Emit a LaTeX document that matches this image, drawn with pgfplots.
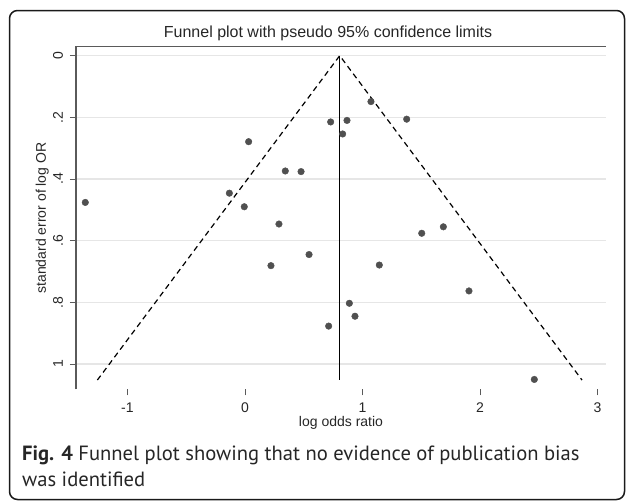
\documentclass[border=0pt]{standalone}
\usepackage{fontspec}
\setmainfont{Liberation Sans}
\newfontfamily\capfont{PT Sans}
\usepackage{pgfplots}
\pgfplotsset{compat=1.18}
\definecolor{dotgray}{HTML}{505050}
\definecolor{axgray}{HTML}{5A5A5A}
\definecolor{gridgray}{HTML}{E6E6E6}
\definecolor{framecol}{HTML}{1A1A1A}

\pgfplotstableread{
x se
-1.359 0.476
0.031 0.279
0.343 0.374
0.477 0.376
-0.133 0.446
-0.006 0.490
0.289 0.546
0.545 0.645
0.221 0.681
1.072 0.149
0.729 0.215
0.868 0.210
0.831 0.254
1.376 0.206
1.504 0.576
1.688 0.555
1.143 0.679
1.906 0.763
0.888 0.803
0.936 0.845
0.712 0.877
2.462 1.050
}\studies

\begin{document}
\begin{tikzpicture}
\path (0,0) rectangle (627pt,-501pt);
% outer frame
\node[draw=framecol, line width=1.5pt, rounded corners=8pt, inner sep=0pt, outer sep=0pt,
      minimum width=615pt, minimum height=489pt, anchor=north west] at (9.5pt,-10.5pt) {};

\begin{axis}[
    at={(76pt,-389.3pt)}, anchor=south west,
    scale only axis, width=530pt, height=342.6pt,
    xmin=-1.438, xmax=3.072,
    ymin=-0.029, ymax=1.082, y dir=reverse,
    axis line style={draw=none},
    xtick pos=bottom, ytick pos=left,
    tick align=outside, major tick length=6pt,
    major tick style={draw=axgray, line width=0.9pt},
    xtick={-1,0,1,2,3},
    ytick={0,0.2,0.4,0.6,0.8,1},
    yticklabels={0,.2,.4,.6,.8,1},
    ymajorgrids, grid style={draw=gridgray, line width=1.1pt},
    /pgf/number format/assume math mode=true,
    tick label style={font=\fontsize{14}{16}\selectfont, text=black!85},
    xticklabel style={anchor=base, yshift=-17pt},
    yticklabel style={xshift=-7pt, rotate=90, anchor=base, inner sep=0pt},
    xlabel={log odds ratio},
    ylabel={standard error of log OR},
    every axis x label/.style={at={(axis description cs:0.5,0)}, anchor=base, yshift=-37.4pt, font=\fontsize{14}{16}\selectfont, text=black!85},
    every axis y label/.style={at={(axis description cs:0,0.5)}, xshift=-30pt, rotate=90, anchor=base, font=\fontsize{14}{16}\selectfont, text=black!85},
    clip=false,
]
% left and bottom axis lines
\draw[draw=axgray, line width=1.1pt] (rel axis cs:0,0) -- (rel axis cs:0,1) -- (rel axis cs:1,1);
% pseudo 95% limits
\addplot[black, line width=1.2pt, dash pattern=on 5.5pt off 4pt] coordinates {(-1.256,1.052) (0.806,0) (2.868,1.052)};
% pooled estimate
\addplot[black, line width=1.3pt] coordinates {(0.806,0) (0.806,1.052)};
% studies
\addplot[only marks, mark=*, mark size=3.3pt, color=dotgray, fill=dotgray] table[x=x, y=se] {\studies};
\end{axis}

\node[anchor=base, font=\fontsize{16}{19}\selectfont, text=black!85] at (328pt,-37.3pt) {Funnel plot with pseudo 95\% confidence limits};

\node[anchor=base west, inner sep=0pt, font=\capfont\fontsize{20.6}{24}\selectfont, text=black!85] at (22pt,-460pt) {\textbf{Fig. 4} Funnel plot showing that no evidence of publication bias};
\node[anchor=base west, inner sep=0pt, font=\capfont\fontsize{20.6}{24}\selectfont, text=black!85] at (22pt,-486pt) {was identified};
\end{tikzpicture}
\end{document}
